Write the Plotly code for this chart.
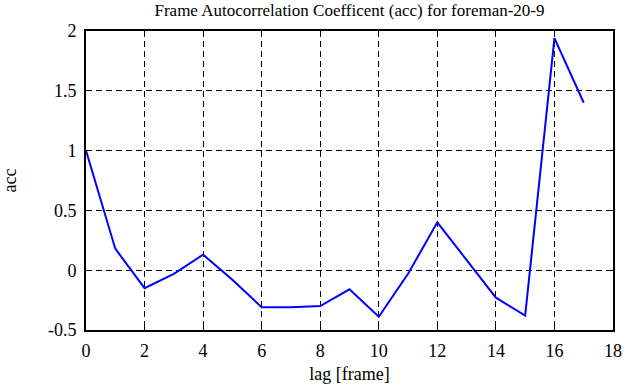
import plotly.graph_objects as go

lags = list(range(18))
acc = [1.0, 0.18, -0.15, -0.03, 0.13, -0.08, -0.31, -0.31, -0.30, -0.16,
       -0.39, -0.03, 0.40, 0.08, -0.23, -0.38, 1.94, 1.40]
x_ticks = [0, 2, 4, 6, 8, 10, 12, 14, 16, 18]
y_ticks = [-0.5, 0, 0.5, 1, 1.5, 2]
y_tick_text = ["-0.5", "0", "0.5", "1", "1.5", "2"]

fam = "Liberation Serif"
font = dict(family=fam, size=18, color="black")
axis_common = dict(showline=True, linecolor="black", linewidth=2, mirror="allticks",
                   ticks="inside", ticklen=6, tickcolor="black", tickwidth=1,
                   showgrid=True, gridcolor="black", gridwidth=1, griddash="6px,4px",
                   zeroline=False, tickfont=dict(family=fam, size=18, color="black"),
                   automargin=False)

fig = go.Figure()
fig.add_trace(go.Scatter(x=lags, y=acc, mode="lines",
                         line=dict(color="#0000ff", width=2), showlegend=False))

fig.update_xaxes(range=[0, 18], tickvals=x_ticks, ticklabelstandoff=3,
                 title=dict(text="lag [frame]", font=font, standoff=8), **axis_common)
fig.update_yaxes(range=[-0.5, 2], tickvals=y_ticks, ticktext=y_tick_text, ticklabelstandoff=4,
                 title=dict(text="acc", font=font, standoff=30), **axis_common)
fig.update_layout(
    width=635, height=387,
    margin=dict(l=86, r=22, t=31, b=57),
    paper_bgcolor="white", plot_bgcolor="white",
    font=font,
    title=dict(text="Frame Autocorrelation Coefficent (acc) for foreman-20-9",
               x=0.5, xref="paper", y=1 - 10 / 387, yanchor="middle",
               font=dict(family=fam, size=17, color="black")),
)
fig.write_html("out.html", config={"displayModeBar": False},
               post_script="document.body.style.margin='0';")
